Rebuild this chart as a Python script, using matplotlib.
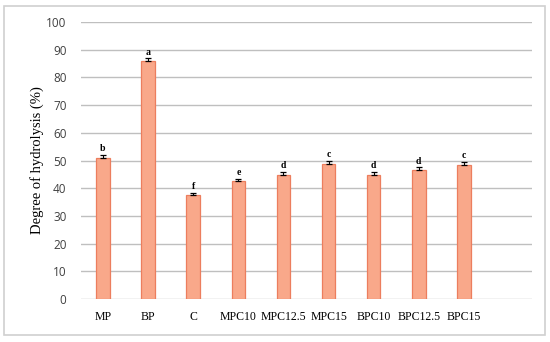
import matplotlib
matplotlib.use("Agg")
import matplotlib.pyplot as plt
from matplotlib.patches import Rectangle

categories = ["MP", "BP", "C", "MPC10", "MPC12.5", "MPC15", "BPC10", "BPC12.5", "BPC15"]
values = [51.0, 85.9, 37.4, 42.5, 44.8, 48.9, 44.8, 46.5, 48.4]
errors = [1.0, 1.0, 1.0, 0.8, 1.0, 1.0, 1.0, 1.0, 1.0]
letters = ["b", "a", "f", "e", "d", "c", "d", "d", "c"]
yticks = [0, 10, 20, 30, 40, 50, 60, 70, 80, 90, 100]

fig = plt.figure(figsize=(5.5, 3.42), dpi=100)
fig.patches.append(Rectangle((4/550, 1 - 335/342), 541/550, 329/342, transform=fig.transFigure,
                             fill=False, edgecolor="#D0D0D0", linewidth=1.2))
ax = fig.add_axes([80.5/550, (342-299)/342, 451/550, (299-22)/342])

x = list(range(len(categories)))
ax.bar(x, values, width=0.3, color="#F9A88A", edgecolor="#EC7E5E", linewidth=0.9, zorder=3)
ax.errorbar(x, values, yerr=[[0]*len(errors), errors], fmt="none", ecolor="black",
            elinewidth=0.8, capsize=2.5, capthick=0.9, zorder=4)
for xi, v, e, l in zip(x, values, errors, letters):
    ax.text(xi, v + e + 0.6, l, ha="center", va="bottom", fontsize=7, fontweight="bold",
            family="Liberation Serif", zorder=5)

ax.set_xlim(-0.5, 9.5)
ax.set_ylim(0, 100)
ax.set_yticks(yticks)
ax.set_yticklabels([str(t) for t in yticks], family="Open Sans", fontsize=8.5, color="#404040")
ax.set_xticks(x)
ax.set_xticklabels(categories, family="Liberation Serif", fontsize=8.5)
ax.tick_params(axis="both", length=0)
ax.tick_params(axis="x", pad=9)
ax.tick_params(axis="y", pad=10)
for s in ax.spines.values():
    s.set_visible(False)
ax.yaxis.grid(True, color="#BFBFBF", linewidth=1.0, zorder=0)
ax.set_axisbelow(True)
ax.set_ylabel("Degree of hydrolysis (%)", family="Liberation Serif", fontsize=10.5)
ax.yaxis.set_label_coords(-0.082, 0.5)

fig.savefig("out.png", dpi=100)
